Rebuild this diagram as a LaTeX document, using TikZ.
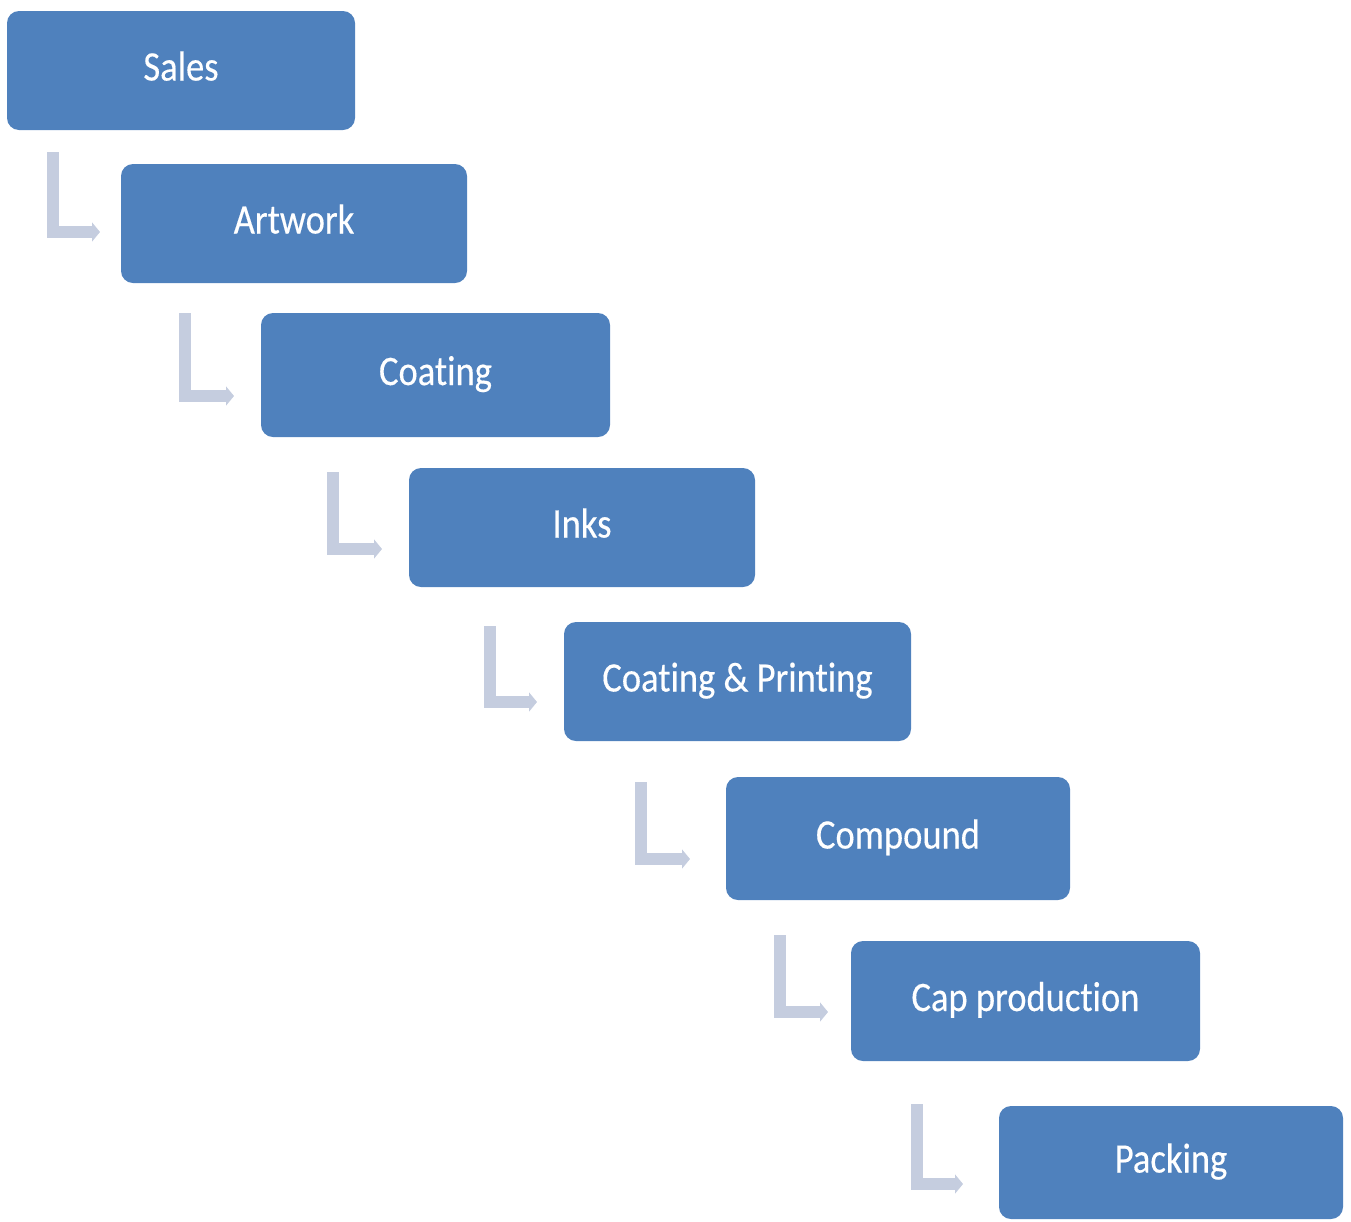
\documentclass[tikz,border=0pt]{standalone}
\usepackage{fontspec}
\setmainfont{Carlito}[FakeStretch=0.87,FakeBold=0.3,RawFeature=-liga]
\usetikzlibrary{arrows.meta}
\definecolor{boxblue}{HTML}{4F81BD}
\definecolor{elbow}{HTML}{C5CDDF}
\tikzset{
  stagebox/.style={draw=none, fill=boxblue, rounded corners=12pt},
  stagetext/.style={text=white, font=\fontsize{42}{46}\selectfont, inner sep=0pt, anchor=base},
  elbowarrow/.style={draw=elbow, line width=12pt, line cap=butt, line join=miter,
    -{Triangle[length=8pt,width=19pt]}}
}
\begin{document}
\begin{tikzpicture}[x=1pt,y=-1pt]
\useasboundingbox (0,0) rectangle (1351,1221);
\newcommand{\stage}[6]{%
  \path[stagebox] (#2,#3) rectangle (#4,#5);
  \node[stagetext] (#1) at ({(#2+#4)/2},{(#3+#5)/2+10}) {#6};}
\stage{sales}{7}{11}{355}{130}{Sales}
\stage{artwork}{121}{164}{467}{283}{Artwork}
\stage{coating}{261}{313}{610}{437}{Coating}
\stage{inks}{409}{468}{755}{587}{Inks}
\stage{coatprint}{564}{622}{911}{741}{Coating \& Printing}
\stage{compound}{726}{777}{1070}{900}{Compound}
\stage{cap}{851}{941}{1200}{1061}{Cap production}
\stage{packing}{999}{1106}{1343}{1219}{Packing}
\coordinate (t1) at (53,152);   \coordinate (h1) at (100,232);
\coordinate (t2) at (185,313);  \coordinate (h2) at (234,396);
\coordinate (t3) at (333,472);  \coordinate (h3) at (382,549);
\coordinate (t4) at (490,626);  \coordinate (h4) at (537,702);
\coordinate (t5) at (641,782);  \coordinate (h5) at (690,859);
\coordinate (t6) at (780,935);  \coordinate (h6) at (828,1012);
\coordinate (t7) at (917,1104); \coordinate (h7) at (963,1184);
\foreach \i in {1,...,7} {\draw[elbowarrow] (t\i) |- (h\i);}
\end{tikzpicture}
\end{document}
